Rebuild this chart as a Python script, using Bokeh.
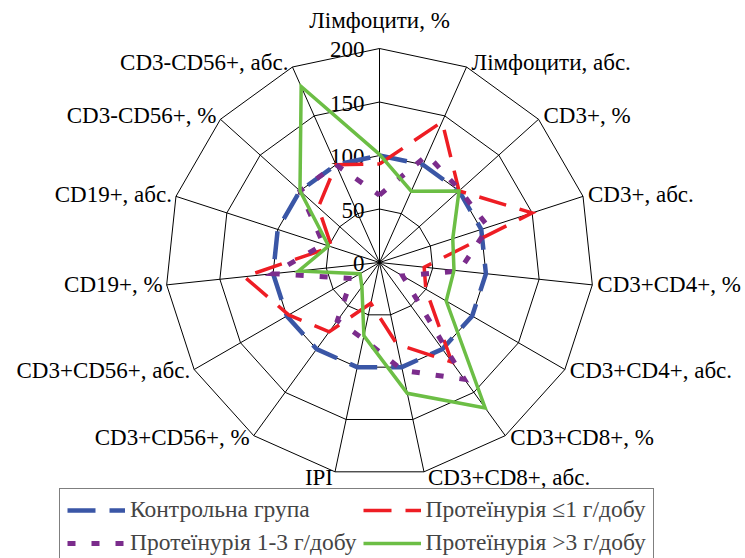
import numpy as np
from bokeh.plotting import figure
from bokeh.models import ColumnDataSource, Legend, LegendItem, Range1d
from bokeh.core.properties import value
from bokeh.embed import file_html
from bokeh.resources import INLINE

# ---------------- data ----------------
categories = ["Лімфоцити, %", "Лімфоцити, абс.", "CD3+, %", "CD3+, абс.",
              "CD3+CD4+, %", "CD3+CD4+, абс.", "CD3+CD8+, %", "CD3+CD8+, абс.",
              "IPI", "CD3+CD56+, %", "CD3+CD56+, абс.", "CD19+, %",
              "CD19+, абс.", "CD3-CD56+, %", "CD3-CD56+, абс."]
control = [100, 100, 100, 100, 100, 100, 100, 100, 100, 100, 100, 100, 100, 100, 100]
prot_le1 = [92, 144, 100, 150, 42, 50, 115, 78, 39, 80, 98, 127, 47, 77, 100]
prot_1_3 = [63, 110, 101, 107, 75, 25, 135, 103, 73, 67, 30, 100, 55, 100, 100]
prot_gt3 = [101, 73, 100, 72, 70, 72, 168, 125, 70, 28, 21, 76, 50, 100, 180]
series_names = ["Контрольна група", "Протеїнурія ≤1 г/добу",
                "Протеїнурія 1-3 г/добу", "Протеїнурія >3 г/добу"]
tick_values = [0, 50, 100, 150, 200]
tick_labels = ["0", "50", "100", "150", "200"]
r_max = 200

# ---------------- layout / style ----------------
W, H = 745, 558
PX = 1.07            # pixels per data unit
CX, CY = 379, 262    # centre of the radar inside the canvas (px)
FONT = "Liberation Serif"
FS = "23px"
FS_LEG = "23.5px"

colors = ["#3A56A6", "#EE1D24", "#7B2C8C", "#6CBE45"]
widths = [4.5, 3.5, 5, 3.5]
dashes = ["28 14", "28 14", "8 16", "solid"]

p = figure(width=W, height=H, output_backend="svg", toolbar_location=None,
           x_axis_type=None, y_axis_type=None, min_border=0,
           x_range=Range1d(-CX / PX, (W - CX) / PX),
           y_range=Range1d(-(H - CY) / PX, CY / PX))
p.outline_line_color = None
p.background_fill_color = "white"
p.border_fill_color = "white"

n = len(categories)
theta = np.pi / 2 - 2 * np.pi * np.arange(n) / n
ct, st = np.cos(theta), np.sin(theta)

# grid rings
ring_xs, ring_ys = [], []
for v in tick_values[1:]:
    ring_xs.append(list(np.append(v * ct, v * ct[0])))
    ring_ys.append(list(np.append(v * st, v * st[0])))
p.multi_line(ring_xs, ring_ys, line_color="black", line_width=1)
# spokes
p.multi_line([[0, r_max * c] for c in ct], [[0, r_max * s] for s in st],
             line_color="black", line_width=1)

# radial tick labels
p.text(x=[0] * len(tick_values), y=tick_values, text=tick_labels,
       text_align="right", text_baseline="middle", x_offset=-15, y_offset=1,
       text_font=value(FONT), text_font_size=FS, text_color="black")

# category labels
xs_l, ys_l, al, xo, yo = [], [], [], [], []
for k in range(n):
    xs_l.append(r_max * ct[k])
    ys_l.append(r_max * st[k])
    if k == 0:
        al.append("center"); xo.append(0); yo.append(-28)
    elif ct[k] > 0:
        al.append("left"); xo.append(5 if ct[k] > 0.3 else 4)
        yo.append(-1 - 4 * st[k] + (3 if st[k] < -0.95 else 0))
    else:
        al.append("right"); xo.append(-4 if ct[k] < -0.3 else -2)
        yo.append(-1 - 4 * st[k] + (3 if st[k] < -0.95 else 0))
lab_src = ColumnDataSource(dict(x=xs_l, y=ys_l, text=categories, align=al, xo=xo, yo=yo))
p.text(x="x", y="y", text="text", text_align="align", x_offset="xo", y_offset="yo",
       text_baseline="middle", text_font=value(FONT), text_font_size=FS,
       text_color="black", source=lab_src)

# series
renderers = []
for vals, c, w, d in zip([control, prot_le1, prot_1_3, prot_gt3], colors, widths, dashes):
    v = np.array(vals, dtype=float)
    x = np.append(v * ct, v[0] * ct[0])
    y = np.append(v * st, v[0] * st[0])
    r = p.line(x, y, line_color=c, line_width=w, line_dash=d, line_join="miter")
    renderers.append(r)

legend = Legend(items=[LegendItem(label=nm, renderers=[r]) for nm, r in zip(series_names, renderers)],
                location=(59, -6), orientation="horizontal", ncols=2,
                label_text_font=FONT, label_text_font_size=FS_LEG,
                glyph_width=58, glyph_height=24, label_height=24, label_standoff=5,
                spacing=6, padding=7, margin=0,
                border_line_color="black", border_line_width=1,
                background_fill_color="white", background_fill_alpha=1)
p.add_layout(legend, "center")

open("out.html", "w").write(file_html(p, INLINE))
